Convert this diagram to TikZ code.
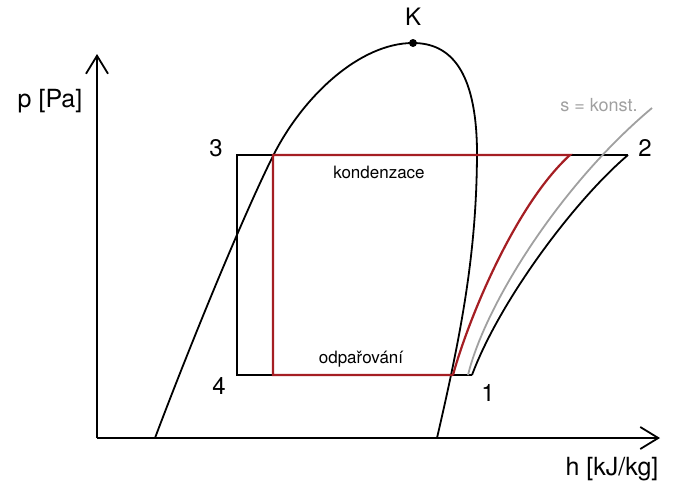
\documentclass[tikz,border=0pt]{standalone}
\usepackage{fontspec}
\setmainfont{TeX Gyre Heros}
\usetikzlibrary{arrows.meta}
\definecolor{cyclered}{RGB}{165,30,35}
\definecolor{isogrey}{RGB}{160,160,160}
\begin{document}
\begin{tikzpicture}[x=1pt,y=-1pt,line width=1.8pt,every node/.style={font=\fontsize{17}{20}\selectfont,inner sep=0pt}]
  \useasboundingbox (0,0) rectangle (677,490);
  % axes
  \coordinate (o) at (97,438);
  \coordinate (ytop) at (97,54);
  \coordinate (xend) at (660,438);
  \draw[-{Straight Barb[length=18pt,width=22pt,line width=1.8pt]}] (o) -- (ytop);
  \draw[-{Straight Barb[length=18pt,width=22pt,line width=1.8pt]}] (o) -- (xend);
  \node[font=\fontsize{25}{28}\selectfont] (plab) at (50,101) {p [Pa]};
  \node[font=\fontsize{25}{28}\selectfont] (hlab) at (612,469) {h [kJ/kg]};
  % saturation dome
  \coordinate (k) at (413,43);
  \draw (155,438) .. controls (190,345) and (243,216) .. (273,156)
        .. controls (303,96) and (360,43) .. (k)
        .. controls (450,43) and (476,70) .. (477,150)
        .. controls (477,250) and (462,330) .. (437,438);
  \fill (k) circle (4);
  \node[font=\fontsize{24}{28}\selectfont] (klab) at (413,17) {K};
  % ideal cycle
  \coordinate (p1) at (472,375);
  \coordinate (p2) at (628,155);
  \coordinate (p3) at (237,155);
  \coordinate (p4) at (237,375);
  \draw[line join=miter] (p1) -- (p4) -- (p3) -- (p2);
  \draw (p1) .. controls (500,300) and (575,200) .. (p2);
  \draw[isogrey] (468,375) .. controls (485,305) and (560,185) .. (652,108);
  \node[isogrey,font=\fontsize{18}{20}\selectfont] (slab) at (599,105) {s = konst.};
  % real cycle
  \coordinate (r1) at (453,375);
  \coordinate (r2) at (570,155);
  \coordinate (r3) at (273,155);
  \coordinate (r4) at (273,375);
  \draw[cyclered,line width=2.2pt,line join=miter] (r1) -- (r4) -- (r3) -- (r2)
        .. controls (515,205) and (468,320) .. (r1);
  \node (kond) at (379,172) {kondenzace};
  \node (odp) at (361,359) {odpařování};
  \node[font=\fontsize{24}{28}\selectfont] (n1) at (488,393) {1};
  \node[font=\fontsize{24}{28}\selectfont] (n2) at (645,148) {2};
  \node[font=\fontsize{24}{28}\selectfont] (n3) at (216,148) {3};
  \node[font=\fontsize{24}{28}\selectfont] (n4) at (219,386) {4};
\end{tikzpicture}
\end{document}
